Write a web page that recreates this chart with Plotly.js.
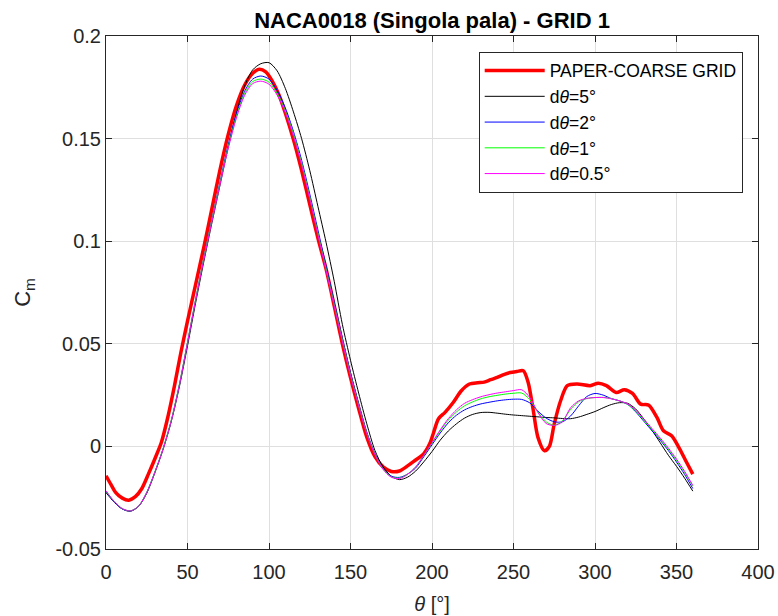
<!DOCTYPE html>
<html>
<head>
<meta charset="utf-8">
<script src="https://cdn.plot.ly/plotly-3.0.1.min.js"></script>
<style>html,body{margin:0;padding:0;background:#fff;}#chart{width:778px;height:616px;}</style>
</head>
<body>
<div id="chart"></div>
<script>
// ---- data ----
var seriesNames = ['PAPER-COARSE GRID', 'd<i>θ</i>=5°', 'd<i>θ</i>=2°', 'd<i>θ</i>=1°', 'd<i>θ</i>=0.5°'];

var thetaPaper = [0,3,6,10,14,18,22,26,30,34,38,42,46,50,55,60,65,70,75,80,85,90,94,98,102,106,110,115,120,125,130,135,140,145,150,155,160,165,170,175,180,185,189,195,199,201,204,208,213,218,223,228,232,236,240,244,248,252,256,259,262,265,269,272,275,279,283,289,297,302,307,313,318,323,328,333,338,342,347,352,356,360];
var cmPaper = [-0.0143,-0.0185,-0.0225,-0.0252,-0.0262,-0.0245,-0.0205,-0.0135,-0.0060,0.0020,0.0145,0.0295,0.0460,0.0610,0.0790,0.0970,0.1160,0.1350,0.1520,0.1660,0.1760,0.1818,0.1838,0.1825,0.1780,0.1715,0.1625,0.1495,0.1345,0.1180,0.1015,0.0865,0.0685,0.0500,0.0335,0.0185,0.0045,-0.0050,-0.0100,-0.0122,-0.0120,-0.0095,-0.0072,-0.0035,0.0020,0.0068,0.0135,0.0166,0.0214,0.0271,0.0304,0.0310,0.0313,0.0325,0.0336,0.0350,0.0360,0.0365,0.0369,0.0312,0.0182,0.0044,-0.0021,0.0000,0.0110,0.0225,0.0296,0.0304,0.0296,0.0308,0.0296,0.0263,0.0276,0.0258,0.0206,0.0201,0.0141,0.0076,0.0052,-0.0013,-0.0075,-0.0135];

var thetaSim = [0,5,10,15,20,25,30,35,40,45,50,55,60,65,70,75,80,85,90,95,100,105,110,115,120,125,130,135,140,145,150,155,160,165,170,175,180,185,190,195,200,205,210,215,220,225,230,235,240,245,250,255,260,265,270,275,280,285,290,295,300,305,310,315,320,325,330,335,340,345,350,355,360];

var cmD5 = [-0.0225,-0.0272,-0.0305,-0.0316,-0.0292,-0.0228,-0.0128,-0.0015,0.0120,0.0290,0.0490,0.0700,0.0900,0.1090,0.1275,0.1460,0.1625,0.1755,0.1835,0.1865,0.1870,0.1830,0.1745,0.1630,0.1500,0.1345,0.1170,0.0995,0.0805,0.0595,0.0420,0.0260,0.0110,-0.0020,-0.0100,-0.0145,-0.0162,-0.0150,-0.0120,-0.0075,-0.0025,0.0030,0.0075,0.0110,0.0138,0.0156,0.0165,0.0166,0.0162,0.0157,0.0153,0.0150,0.0147,0.0144,0.0141,0.0139,0.0136,0.0135,0.0143,0.0156,0.0170,0.0188,0.0204,0.0213,0.0210,0.0182,0.0133,0.0078,0.0018,-0.0043,-0.0097,-0.0155,-0.0218];

var cmD2 = [-0.0220,-0.0270,-0.0305,-0.0315,-0.0292,-0.0225,-0.0125,-0.0012,0.0125,0.0300,0.0505,0.0715,0.0915,0.1105,0.1290,0.1470,0.1620,0.1730,0.1790,0.1805,0.1790,0.1735,0.1650,0.1535,0.1395,0.1230,0.1055,0.0880,0.0705,0.0530,0.0360,0.0210,0.0070,-0.0035,-0.0108,-0.0145,-0.0151,-0.0135,-0.0105,-0.0050,0.0008,0.0065,0.0115,0.0152,0.0178,0.0195,0.0207,0.0215,0.0222,0.0227,0.0230,0.0229,0.0212,0.0172,0.0138,0.0120,0.0120,0.0148,0.0198,0.0243,0.0258,0.0250,0.0233,0.0222,0.0205,0.0168,0.0122,0.0076,0.0030,-0.0020,-0.0076,-0.0137,-0.0205];

var cmD1 = [-0.0218,-0.0268,-0.0303,-0.0314,-0.0291,-0.0224,-0.0124,-0.0012,0.0126,0.0302,0.0508,0.0717,0.0915,0.1102,0.1284,0.1460,0.1608,0.1718,0.1778,0.1790,0.1775,0.1720,0.1635,0.1520,0.1380,0.1215,0.1040,0.0866,0.0692,0.0518,0.0350,0.0202,0.0065,-0.0038,-0.0110,-0.0148,-0.0155,-0.0135,-0.0100,-0.0045,0.0015,0.0075,0.0128,0.0168,0.0198,0.0217,0.0232,0.0242,0.0249,0.0255,0.0259,0.0260,0.0228,0.0168,0.0120,0.0103,0.0125,0.0180,0.0218,0.0233,0.0238,0.0239,0.0233,0.0222,0.0205,0.0172,0.0127,0.0082,0.0036,-0.0014,-0.0068,-0.0127,-0.0192];

var cmD05 = [-0.0216,-0.0268,-0.0303,-0.0314,-0.0291,-0.0225,-0.0126,-0.0015,0.0122,0.0298,0.0505,0.0713,0.0910,0.1097,0.1278,0.1452,0.1600,0.1710,0.1768,0.1780,0.1765,0.1712,0.1627,0.1512,0.1372,0.1207,0.1032,0.0858,0.0685,0.0512,0.0345,0.0198,0.0062,-0.0040,-0.0112,-0.0150,-0.0157,-0.0136,-0.0100,-0.0043,0.0018,0.0080,0.0135,0.0178,0.0210,0.0228,0.0242,0.0252,0.0260,0.0266,0.0272,0.0276,0.0238,0.0165,0.0112,0.0102,0.0120,0.0188,0.0222,0.0234,0.0238,0.0238,0.0232,0.0222,0.0207,0.0176,0.0132,0.0087,0.0041,-0.0008,-0.0062,-0.0122,-0.0190];

var xTickVals = [0,50,100,150,200,250,300,350,400];
var xTickText = ['0','50','100','150','200','250','300','350','400'];
var yTickVals = [-0.05,0,0.05,0.1,0.15,0.2];
var yTickText = ['-0.05','0','0.05','0.1','0.15','0.2'];

// ---- styles ----
var colors = ['#ff0000','#000000','#0000ff','#00ff00','#ff00ff'];
var widths = [3.5,1,1,1,1];
var xs = [thetaPaper, thetaSim, thetaSim, thetaSim, thetaSim];
var ys = [cmPaper, cmD5, cmD2, cmD1, cmD05];

var traces = [];
for (var i = 0; i < ys.length; i++) {
  traces.push({
    x: xs[i], y: ys[i], name: seriesNames[i], type: 'scatter', mode: 'lines',
    line: {color: colors[i], width: widths[i], shape: 'spline', smoothing: 0.8}
  });
}

var axisCommon = {
  showline: true, linecolor: '#262626', linewidth: 1, mirror: 'ticks',
  ticks: 'inside', ticklen: 6, tickcolor: '#262626', tickwidth: 1,
  showgrid: true, gridcolor: '#dfdfdf', gridwidth: 1, zeroline: false,
  tickfont: {family: 'Liberation Sans, Arial, sans-serif', size: 20, color: '#262626'},
  tickmode: 'array'
};

var layout = {
  width: 778, height: 616,
  margin: {l: 106, r: 20, t: 36, b: 67, pad: 0},
  paper_bgcolor: '#ffffff', plot_bgcolor: '#ffffff',
  font: {family: 'Liberation Sans, Arial, sans-serif', color: '#262626'},
  title: {text: '<b>NACA0018 (Singola pala) - GRID 1</b>', font: {size: 22, color: '#000000'},
          xref: 'paper', x: 0.5, xanchor: 'center', yref: 'container', y: 1 - 20.5/616, yanchor: 'middle'},
  xaxis: Object.assign({}, axisCommon, {
    range: [0, 400], tickvals: xTickVals, ticktext: xTickText, ticklabelstandoff: 5,
    title: {text: '<i>θ</i> [°]', font: {size: 20, color: '#262626'}, standoff: 14}
  }),
  yaxis: Object.assign({}, axisCommon, {
    range: [-0.05, 0.2], tickvals: yTickVals, ticktext: yTickText,
    title: {text: 'C<sub>m</sub>', font: {size: 22, color: '#262626'}, standoff: 18}
  }),
  showlegend: true,
  legend: {
    x: (742.7 - 106) / 652, xanchor: 'right', y: (549 - 51.7) / 513, yanchor: 'top',
    bgcolor: '#ffffff', bordercolor: '#262626', borderwidth: 1,
    font: {size: 17.5, color: '#000000', family: 'Liberation Sans, Arial, sans-serif'},
    itemwidth: 60, tracegroupgap: 0
  }
};

Plotly.newPlot('chart', traces, layout, {staticPlot: true, displayModeBar: false});
</script>
</body>
</html>
